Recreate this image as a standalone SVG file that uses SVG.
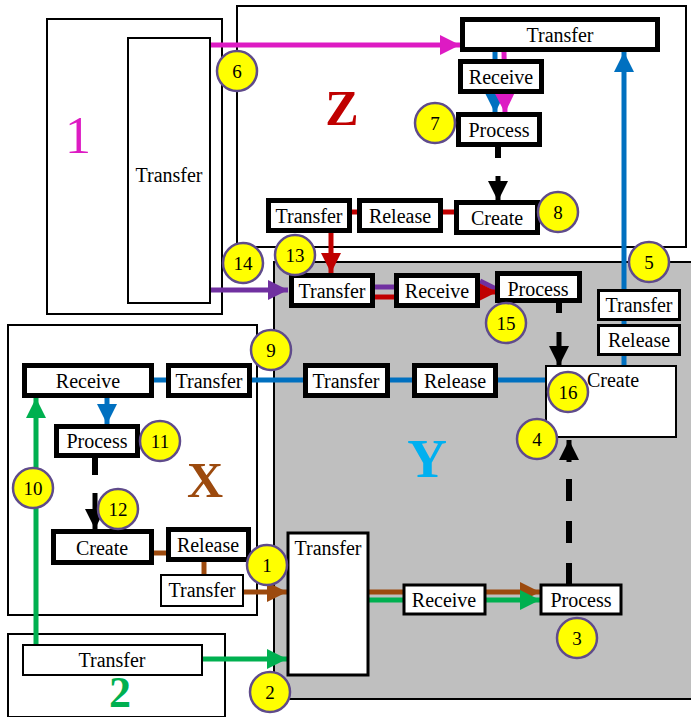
<svg xmlns="http://www.w3.org/2000/svg" width="691" height="717" viewBox="0 0 691 717" font-family="'Liberation Serif', 'Times New Roman', 'DejaVu Serif', serif">
<style>
.frame{fill:#fff;stroke:#000;stroke-width:2}
.thick{fill:#fff;stroke:#000;stroke-width:5}
.thin{fill:#fff;stroke:#000;stroke-width:3}
text{font-family:'Liberation Serif','Times New Roman','DejaVu Serif',serif}
.t{font-size:20px;fill:#000;text-anchor:middle}
.big{text-anchor:middle}
.num circle{fill:#FFFF00;stroke:#5F4B8B;stroke-width:2.5}
.num text{font-size:19px;text-anchor:middle;fill:#000}
.c{fill:none;stroke-width:5}
</style>
<defs>
<marker id="aMag" markerWidth="4" markerHeight="4" refX="4" refY="2" orient="auto" markerUnits="strokeWidth"><path d="M0,0L4,2L0,4z" fill="#DD1BC3"/></marker>
<marker id="aBlue" markerWidth="4" markerHeight="4" refX="4" refY="2" orient="auto" markerUnits="strokeWidth"><path d="M0,0L4,2L0,4z" fill="#0070C0"/></marker>
<marker id="aRed" markerWidth="4" markerHeight="4" refX="4" refY="2" orient="auto" markerUnits="strokeWidth"><path d="M0,0L4,2L0,4z" fill="#C00000"/></marker>
<marker id="aPur" markerWidth="4" markerHeight="4" refX="4" refY="2" orient="auto" markerUnits="strokeWidth"><path d="M0,0L4,2L0,4z" fill="#7030A0"/></marker>
<marker id="aBrn" markerWidth="4" markerHeight="4" refX="4" refY="2" orient="auto" markerUnits="strokeWidth"><path d="M0,0L4,2L0,4z" fill="#9C4A0E"/></marker>
<marker id="aGrn" markerWidth="4" markerHeight="4" refX="4" refY="2" orient="auto" markerUnits="strokeWidth"><path d="M0,0L4,2L0,4z" fill="#00B050"/></marker>
<marker id="aBlk" markerWidth="4" markerHeight="4" refX="4" refY="2" orient="auto" markerUnits="strokeWidth"><path d="M0,0L4,2L0,4z" fill="#000"/></marker>
</defs>

<!-- Regions -->
<g id="region-1">
<rect class="frame" x="47" y="19" width="175" height="295"/>
<text class="big" x="78" y="153" font-size="52" fill="#DD1BC3">1</text>
</g>
<g id="region-Z">
<rect class="frame" x="237" y="6" width="449" height="241"/>
<text class="big" x="342" y="125" font-size="50" font-weight="bold" fill="#C00000">Z</text>
</g>
<g id="region-Y">
<rect x="274" y="262" width="430" height="437" fill="#BFBFBF" stroke="#000" stroke-width="2"/>
<text class="big" x="427" y="477" font-size="55" font-weight="bold" fill="#00B0F0">Y</text>
</g>
<g id="region-X">
<rect class="frame" x="8" y="325" width="249" height="290"/>
<text class="big" x="205" y="497" font-size="50" font-weight="bold" fill="#9C4A0E">X</text>
</g>
<g id="region-2">
<rect class="frame" x="8" y="634" width="217" height="83"/>
<text class="big" x="120" y="707" font-size="44" font-weight="bold" fill="#00B050">2</text>
</g>

<!-- Connectors -->
<g id="connectors">
<line class="c" x1="210" y1="45" x2="460" y2="45" stroke="#DD1BC3" marker-end="url(#aMag)"/>
<line class="c" x1="495" y1="52" x2="495" y2="113" stroke="#0070C0" marker-end="url(#aBlue)"/>
<line class="c" x1="504" y1="52" x2="505" y2="113" stroke="#DD1BC3" marker-end="url(#aMag)"/>
<line x1="498" y1="147" x2="498" y2="158" stroke="#000" stroke-width="6"/>
<line x1="498" y1="176" x2="498" y2="201" stroke="#000" stroke-width="5" marker-end="url(#aBlk)"/>
<line class="c" x1="352" y1="212" x2="358" y2="212" stroke="#C00000"/>
<line class="c" x1="443" y1="212" x2="455" y2="212" stroke="#C00000"/>
<line class="c" x1="331" y1="233" x2="331" y2="273" stroke="#C00000" marker-end="url(#aRed)"/>
<line class="c" x1="210" y1="290" x2="288" y2="290" stroke="#7030A0" marker-end="url(#aPur)"/>
<line class="c" x1="375" y1="287" x2="394" y2="287" stroke="#7030A0"/>
<line class="c" x1="375" y1="297" x2="394" y2="297" stroke="#C00000"/>
<line class="c" x1="480" y1="281" x2="496" y2="289" stroke="#7030A0"/>
<line class="c" x1="480" y1="292" x2="497" y2="292" stroke="#C00000" marker-end="url(#aRed)"/>
<line class="c" x1="624" y1="366" x2="624" y2="52" stroke="#0070C0" marker-end="url(#aBlue)"/>
<line x1="559" y1="303" x2="559" y2="313" stroke="#000" stroke-width="6"/>
<line x1="559" y1="332" x2="559" y2="366" stroke="#000" stroke-width="5" marker-end="url(#aBlk)"/>
<line class="c" x1="153" y1="380" x2="546" y2="380" stroke="#0070C0"/>
<line class="c" x1="107" y1="398" x2="107" y2="424" stroke="#0070C0" marker-end="url(#aBlue)"/>
<line x1="95" y1="458" x2="95" y2="475" stroke="#000" stroke-width="6"/>
<line x1="95" y1="493" x2="95" y2="529" stroke="#000" stroke-width="5" marker-end="url(#aBlk)"/>
<line class="c" x1="36" y1="645" x2="36" y2="398" stroke="#00B050" marker-end="url(#aGrn)"/>
<line class="c" x1="154" y1="553" x2="166" y2="553" stroke="#9C4A0E"/>
<line class="c" x1="204" y1="562" x2="204" y2="575" stroke="#9C4A0E"/>
<line class="c" x1="243" y1="592" x2="287" y2="592" stroke="#9C4A0E" marker-end="url(#aBrn)"/>
<line class="c" x1="202" y1="659" x2="287" y2="659" stroke="#00B050" marker-end="url(#aGrn)"/>
<line class="c" x1="369" y1="592" x2="403" y2="592" stroke="#9C4A0E"/>
<line class="c" x1="369" y1="600" x2="403" y2="600" stroke="#00B050"/>
<line class="c" x1="486" y1="592" x2="540" y2="592" stroke="#9C4A0E" marker-end="url(#aBrn)"/>
<line class="c" x1="486" y1="600" x2="540" y2="600" stroke="#00B050" marker-end="url(#aGrn)"/>
<line x1="569" y1="585" x2="569" y2="463" stroke="#000" stroke-width="6" stroke-dasharray="22 20"/>
<line x1="569" y1="462" x2="569" y2="440" stroke="#000" stroke-width="5" marker-end="url(#aBlk)"/>
</g>

<!-- Nodes -->
<g id="n1-transfer"><rect class="frame" x="128" y="38" width="82" height="265"/><text class="t" x="169" y="182">Transfer</text></g>
<g id="z-transfer-top"><rect class="thick" x="462.5" y="19.5" width="195" height="30"/><text class="t" x="560" y="42">Transfer</text></g>
<g id="z-receive"><rect class="thick" x="460.5" y="61.5" width="81" height="30"/><text class="t" x="501" y="84">Receive</text></g>
<g id="z-process"><rect class="thick" x="458.5" y="114.5" width="81" height="30"/><text class="t" x="499" y="137">Process</text></g>
<g id="z-create"><rect class="thick" x="456.5" y="202.5" width="81" height="30"/><text class="t" x="497" y="225">Create</text></g>
<g id="z-release"><rect class="thick" x="359.5" y="200.5" width="81" height="30"/><text class="t" x="400" y="223">Release</text></g>
<g id="z-transfer"><rect class="thick" x="268.5" y="200.5" width="81" height="30"/><text class="t" x="309" y="223">Transfer</text></g>
<g id="y-transfer-top"><rect class="thick" x="291.5" y="275.5" width="81" height="30"/><text class="t" x="332" y="298">Transfer</text></g>
<g id="y-receive-top"><rect class="thick" x="396.5" y="275.5" width="81" height="30"/><text class="t" x="437" y="298">Receive</text></g>
<g id="y-process-top"><rect class="thick" x="497.5" y="273.5" width="82" height="27"/><text class="t" x="538" y="296">Process</text></g>
<g id="y-transfer-right"><rect class="thin" x="598.5" y="290.5" width="81" height="29"/><text class="t" x="639" y="312">Transfer</text></g>
<g id="y-release-right"><rect class="thin" x="598.5" y="325.5" width="81" height="29"/><text class="t" x="639" y="347">Release</text></g>
<g id="y-create"><rect class="frame" x="546" y="366" width="130" height="71"/><text class="t" x="613" y="387">Create</text></g>
<g id="y-transfer-mid"><rect class="thick" x="305.5" y="365.5" width="82" height="30"/><text class="t" x="346" y="388">Transfer</text></g>
<g id="y-release-mid"><rect class="thick" x="414.5" y="365.5" width="81" height="30"/><text class="t" x="455" y="388">Release</text></g>
<g id="x-receive"><rect class="thick" x="24.5" y="365.5" width="127" height="30"/><text class="t" x="88" y="388">Receive</text></g>
<g id="x-transfer"><rect class="thick" x="168.5" y="365.5" width="81" height="30"/><text class="t" x="209" y="388">Transfer</text></g>
<g id="x-process"><rect class="thick" x="56.5" y="426.5" width="81" height="29"/><text class="t" x="97" y="448">Process</text></g>
<g id="x-create"><rect class="thick" x="53.5" y="531.5" width="98" height="31"/><text class="t" x="102" y="555">Create</text></g>
<g id="x-release"><rect class="thick" x="168.5" y="529.5" width="80" height="30"/><text class="t" x="208" y="552">Release</text></g>
<g id="x-transfer-small"><rect class="frame" x="161" y="575" width="82" height="31"/><text class="t" x="202" y="597">Transfer</text></g>
<g id="n2-transfer"><rect class="frame" x="23" y="645" width="179" height="30"/><text class="t" x="112" y="667">Transfer</text></g>
<g id="y-transfer-big"><rect class="thin" x="288" y="533" width="80" height="142"/><text class="t" x="328" y="555">Transfer</text></g>
<g id="y-receive-bottom"><rect class="thin" x="404" y="585" width="81" height="29"/><text class="t" x="444" y="607">Receive</text></g>
<g id="y-process-bottom"><rect class="thin" x="541" y="585" width="80" height="29"/><text class="t" x="581" y="607">Process</text></g>

<!-- Numbered markers -->
<g id="m1" class="num"><circle cx="267" cy="565" r="20"/><text x="267" y="572">1</text></g>
<g id="m2" class="num"><circle cx="270" cy="692" r="20"/><text x="270" y="699">2</text></g>
<g id="m3" class="num"><circle cx="577" cy="638" r="20"/><text x="577" y="645">3</text></g>
<g id="m4" class="num"><circle cx="537" cy="439" r="20"/><text x="537" y="446">4</text></g>
<g id="m5" class="num"><circle cx="649" cy="262" r="20"/><text x="649" y="269">5</text></g>
<g id="m6" class="num"><circle cx="237" cy="71" r="20"/><text x="237" y="78">6</text></g>
<g id="m7" class="num"><circle cx="435" cy="123" r="20"/><text x="435" y="130">7</text></g>
<g id="m8" class="num"><circle cx="558" cy="212" r="20"/><text x="558" y="219">8</text></g>
<g id="m9" class="num"><circle cx="271" cy="350" r="20"/><text x="271" y="357">9</text></g>
<g id="m10" class="num"><circle cx="33" cy="488" r="20"/><text x="33" y="495">10</text></g>
<g id="m11" class="num"><circle cx="160" cy="441" r="20"/><text x="160" y="448">11</text></g>
<g id="m12" class="num"><circle cx="118" cy="509" r="20"/><text x="118" y="516">12</text></g>
<g id="m13" class="num"><circle cx="295" cy="255" r="20"/><text x="295" y="262">13</text></g>
<g id="m14" class="num"><circle cx="243" cy="263" r="20"/><text x="243" y="270">14</text></g>
<g id="m15" class="num"><circle cx="506" cy="323" r="20"/><text x="506" y="330">15</text></g>
<g id="m16" class="num"><circle cx="568" cy="392" r="20"/><text x="568" y="399">16</text></g>
</svg>
